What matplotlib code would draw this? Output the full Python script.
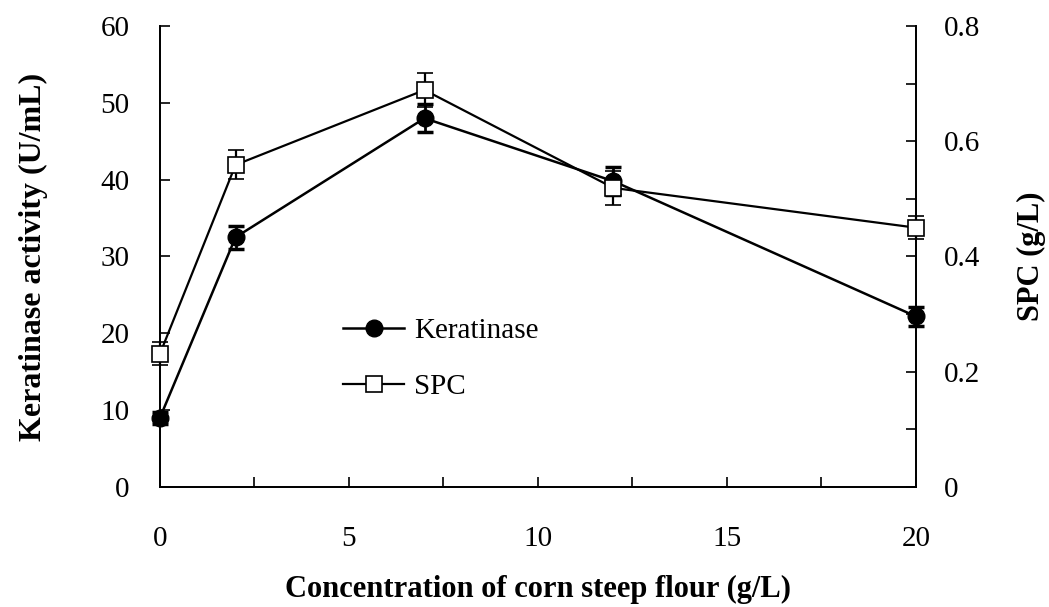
import matplotlib.pyplot as plt
from matplotlib.lines import Line2D
from matplotlib.ticker import MultipleLocator

plt.rcParams['font.family'] = ['Liberation Serif', 'DejaVu Serif']

# data
conc = [0, 2, 7, 12, 20]
keratinase = [9.0, 32.5, 48.0, 39.8, 22.2]
keratinase_err = [0.8, 1.5, 1.8, 1.8, 1.2]
spc = [0.231, 0.559, 0.689, 0.519, 0.450]
spc_err = [0.02, 0.025, 0.03, 0.03, 0.02]

fig = plt.figure(figsize=(10.49, 6.07), dpi=100)
ax = fig.add_axes([0.1525, 0.198, 0.7205, 0.759])
ax2 = ax.twinx()

c1 = ax.errorbar(conc, keratinase, yerr=keratinase_err, color='black', lw=1.8,
                 marker='o', ms=12, mfc='black', mec='black',
                 capsize=5.5, capthick=2.5, elinewidth=2, zorder=3)
c2 = ax2.errorbar(conc, spc, yerr=spc_err, color='black', lw=1.6,
                  marker='s', ms=12, mfc='white', mec='black', mew=1.2,
                  capsize=5.5, capthick=2.5, elinewidth=1.6, zorder=3)
for c in (c1, c2):
    for art in c.get_children():
        art.set_clip_on(False)

ax.set_xlim(0, 20)
ax.set_ylim(0, 60)
ax2.set_ylim(0, 0.8)
ax.xaxis.set_major_locator(MultipleLocator(5))
ax.xaxis.set_minor_locator(MultipleLocator(2.5))
ax.yaxis.set_major_locator(MultipleLocator(10))
ax2.yaxis.set_major_locator(MultipleLocator(0.2))
ax2.yaxis.set_minor_locator(MultipleLocator(0.1))
ax2.yaxis.set_major_formatter(plt.FuncFormatter(lambda v, p: '0' if v == 0 else f'{v:.1f}'))

for a in (ax, ax2):
    a.spines['top'].set_visible(False)
    for s in a.spines.values():
        s.set_linewidth(1.3)
ax.tick_params(axis='x', which='both', direction='in', length=7, width=1.2,
               labelsize=21, pad=28)
ax.tick_params(axis='y', direction='in', length=7, width=1.2, labelsize=21, pad=22)
ax2.tick_params(axis='y', which='both', direction='in', length=7, width=1.2,
                labelsize=21, pad=20)

ax.set_xlabel('Concentration of corn steep flour (g/L)', fontsize=22,
              fontweight='bold', va='center')
ax.xaxis.set_label_coords(0.5, -0.222)
ax.set_ylabel('Keratinase activity (U/mL)', fontsize=23, fontweight='bold', va='center')
ax.yaxis.set_label_coords(-0.168, 0.5)
ax2.set_ylabel('SPC (g/L)', fontsize=22, fontweight='bold', va='center')
ax2.yaxis.set_label_coords(1.153, 0.5)

handles = [
    Line2D([], [], color='black', lw=1.8, marker='o', ms=12, mfc='black'),
    Line2D([], [], color='black', lw=1.6, marker='s', ms=12, mfc='white', mew=1.2),
]
ax.legend(handles, ['Keratinase', 'SPC'], loc='center left',
          bbox_to_anchor=(0.242, 0.278), frameon=False, fontsize=21,
          handlelength=2.1, handletextpad=0.35, labelspacing=1.0,
          borderpad=0, borderaxespad=0)

plt.savefig('out.png', dpi=100)
